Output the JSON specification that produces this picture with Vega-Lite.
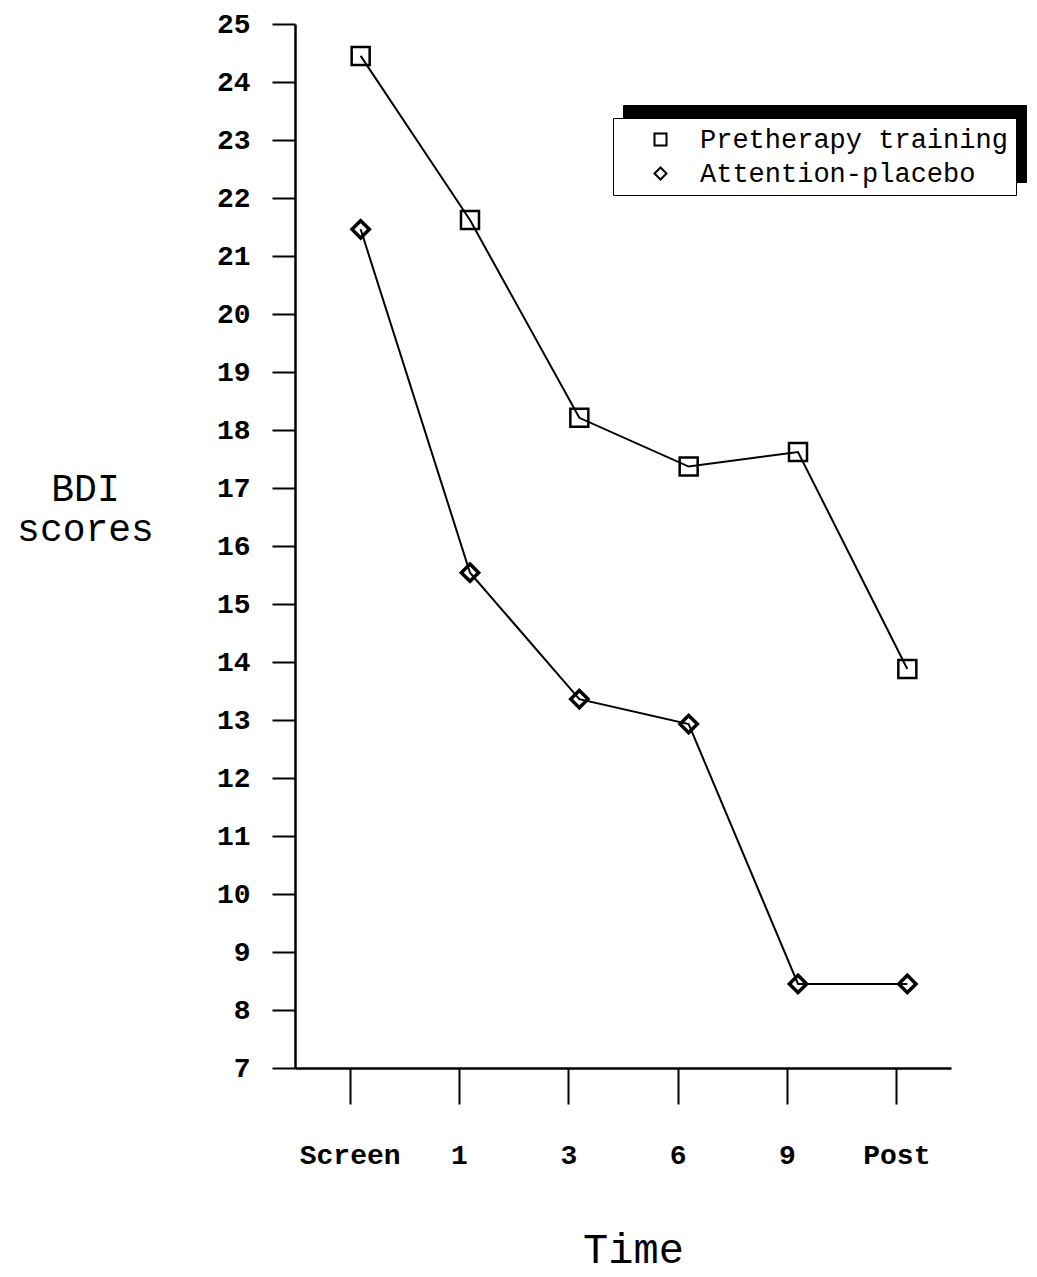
{
  "$schema": "https://vega.github.io/schema/vega-lite/v6.json",
  "width": 656,
  "height": 1044,
  "autosize": "none",
  "padding": {"left": 295, "top": 24, "right": 86, "bottom": 209},
  "background": "white",
  "config": {"view": {"stroke": null}},
  "data": {
    "values": [
      {"time": "Screen", "group": "Pretherapy training", "score": 24.45},
      {"time": "1", "group": "Pretherapy training", "score": 21.62},
      {"time": "3", "group": "Pretherapy training", "score": 18.21},
      {"time": "6", "group": "Pretherapy training", "score": 17.37},
      {"time": "9", "group": "Pretherapy training", "score": 17.62},
      {"time": "Post", "group": "Pretherapy training", "score": 13.88},
      {"time": "Screen", "group": "Attention-placebo", "score": 21.46},
      {"time": "1", "group": "Attention-placebo", "score": 15.54},
      {"time": "3", "group": "Attention-placebo", "score": 13.36},
      {"time": "6", "group": "Attention-placebo", "score": 12.93},
      {"time": "9", "group": "Attention-placebo", "score": 8.45},
      {"time": "Post", "group": "Attention-placebo", "score": 8.45}
    ]
  },
  "encoding": {
    "x": {
      "field": "time",
      "type": "ordinal",
      "sort": ["Screen", "1", "3", "6", "9", "Post"],
      "scale": {"type": "point", "padding": 0.5},
      "axis": {
        "labelAngle": 0,
        "tickSize": 36,
        "tickWidth": 2,
        "tickColor": "black",
        "domainColor": "black",
        "domainWidth": 2.5,
        "labelFont": "Liberation Mono",
        "labelFontSize": 28,
        "labelFontWeight": "bold",
        "labelColor": "black",
        "labelBaseline": "middle",
        "labelPadding": 51,
        "title": "Time",
        "titleFont": "Liberation Mono",
        "titleFontSize": 42,
        "titleFontWeight": "normal",
        "titleColor": "black",
        "titleX": 338,
        "titleY": 194,
        "titleAlign": "center",
        "titleBaseline": "alphabetic"
      }
    },
    "y": {
      "field": "score",
      "type": "quantitative",
      "scale": {"domain": [7, 25], "nice": false, "zero": false},
      "axis": {
        "values": [7, 7.5, 8, 8.5, 9, 9.5, 10, 10.5, 11, 11.5, 12, 12.5, 13, 13.5, 14, 14.5, 15, 15.5, 16, 16.5, 17, 17.5, 18, 18.5, 19, 19.5, 20, 20.5, 21, 21.5, 22, 22.5, 23, 23.5, 24, 24.5, 25],
        "format": "d",
        "labelExpr": "datum.value % 1 ? '' : datum.label",
        "grid": false,
        "tickSize": {"condition": {"test": "datum.value % 1 !== 0", "value": 13}, "value": 23},
        "tickWidth": 2,
        "tickColor": "black",
        "domainColor": "black",
        "domainWidth": 2.5,
        "labelFont": "Liberation Mono",
        "labelFontSize": 28,
        "labelFontWeight": "bold",
        "labelColor": "black",
        "labelBaseline": "middle",
        "labelPadding": 22,
        "title": ["BDI", "scores"],
        "titleFont": "Liberation Mono",
        "titleFontSize": 38,
        "titleFontWeight": "normal",
        "titleColor": "black",
        "titleAngle": 0,
        "titleX": -210,
        "titleY": 476,
        "titleAlign": "center",
        "titleBaseline": "alphabetic",
        "titleLineHeight": 40
      }
    }
  },
  "layer": [
    {
      "mark": {"type": "line", "strokeWidth": 2, "xOffset": 11},
      "encoding": {
        "color": {
          "field": "group",
          "type": "nominal",
          "scale": {"domain": ["Pretherapy training", "Attention-placebo"], "range": ["black", "black"]},
          "legend": {
            "orient": "none",
            "legendX": 328,
            "legendY": 81,
            "title": null,
            "fillColor": "black",
            "strokeColor": "black",
            "padding": 8,
            "labelFont": "Liberation Mono",
            "labelFontSize": 27,
            "labelColor": "black",
            "labelLimit": 500,
            "labelOffset": 26,
            "rowPadding": 6,
            "symbolSize": 144,
            "symbolOffset": 26,
            "symbolStrokeWidth": 2,
            "symbolStrokeColor": "black",
            "symbolFillColor": "transparent",
            "symbolType": "M-1,0H1"
          }
        }
      }
    },
    {
      "mark": {"type": "point", "filled": false, "color": "black", "strokeWidth": 2.5, "xOffset": 11, "opacity": 1},
      "encoding": {
        "shape": {
          "field": "group",
          "type": "nominal",
          "sort": ["Pretherapy training", "Attention-placebo"],
          "scale": {"range": ["square", "diamond"]},
          "legend": {
            "orient": "none",
            "legendX": 318,
            "legendY": 94,
            "title": null,
            "fillColor": "white",
            "strokeColor": "black",
            "padding": 8,
            "labelFont": "Liberation Mono",
            "labelFontSize": 27,
            "labelColor": "black",
            "labelLimit": 500,
            "labelOffset": 26,
            "rowPadding": 6,
            "symbolSize": 144,
            "symbolOffset": 26,
            "symbolStrokeWidth": 2,
            "symbolStrokeColor": "black",
            "symbolFillColor": "transparent",
            "encode": {
              "legend": {"strokeWidth": {"value": 1.5}}
            }
          }
        },
        "size": {
          "field": "group",
          "type": "nominal",
          "sort": ["Pretherapy training", "Attention-placebo"],
          "scale": {"range": [324, 300]},
          "legend": null
        },
        "strokeWidth": {
          "field": "group",
          "type": "nominal",
          "sort": ["Pretherapy training", "Attention-placebo"],
          "scale": {"range": [2.5, 3.5]},
          "legend": null
        }
      }
    }
  ]
}
